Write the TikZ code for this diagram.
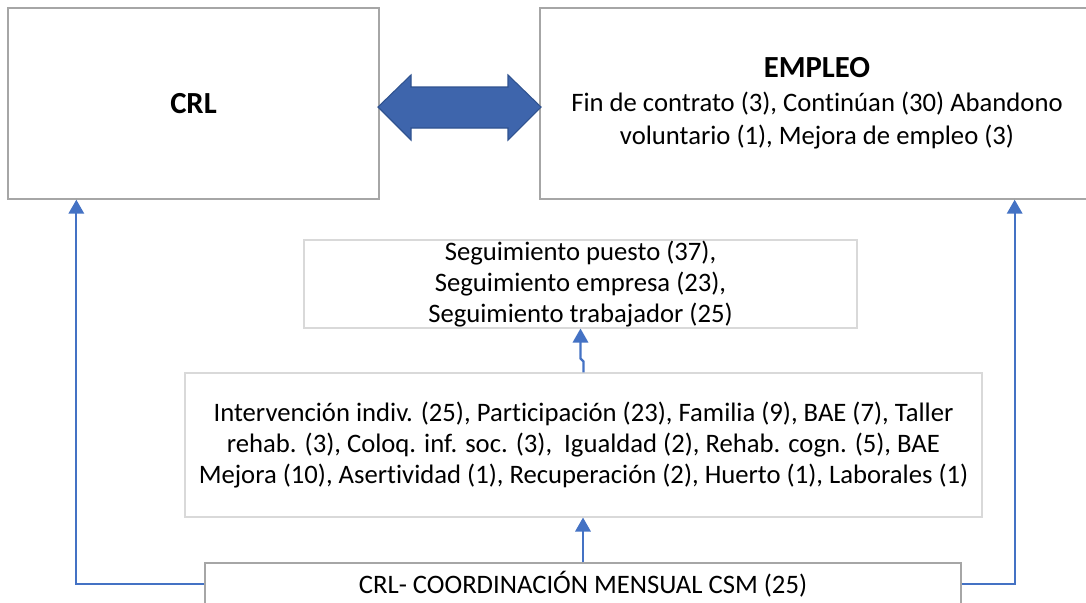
\documentclass[tikz,border=0pt]{standalone}
\usepackage{fontspec}
\setmainfont[RawFeature={-liga;-clig;-dlig}]{Carlito}
\usetikzlibrary{arrows.meta}
\definecolor{conncol}{RGB}{68,114,196}
\definecolor{arrfill}{RGB}{62,101,172}
\definecolor{arrdraw}{RGB}{47,82,143}
\definecolor{boxgray}{RGB}{166,166,166}
\definecolor{boxlight}{RGB}{217,217,217}
\tikzset{
  mainbox/.style={draw=boxgray, line width=1pt, fill=white, inner sep=0pt, align=center,
    font=\fontsize{20}{24.5}\selectfont},
  lightbox/.style={draw=boxlight, line width=0.8pt, fill=white, inner sep=0pt, align=center,
    font=\fontsize{20}{23.3}\selectfont},
  conn/.style={draw=conncol, line width=1.7pt, -{Triangle[width=11.5pt,length=10.5pt]}},
  bigarrow/.style={fill=arrfill, draw=arrdraw, line width=0.8pt, line join=miter}
}
\begin{document}
\begin{tikzpicture}[x=0.75pt,y=-0.75pt]
\useasboundingbox (0,0) rectangle (1086,603);
\clip (0,0) rectangle (1086,603);
\fill[white] (0,0) rectangle (1086,603);

\node[mainbox, minimum width=278.25pt, minimum height=143.25pt] (crl) at (193.5,103.5)
  {\fontsize{23}{27}\selectfont\bfseries CRL};
\node[mainbox, minimum width=415.5pt, minimum height=143.25pt] (emp) at (817,103.5)
  {{\fontsize{23}{27}\selectfont\bfseries EMPLEO}\\[1pt]
   Fin de contrato (3), Continúan (30) Abandono\\
   voluntario (1), Mejora de empleo (3)};

\node[lightbox, minimum width=414.75pt, minimum height=66pt] (seg) at (580.5,284)
  {Seguimiento puesto (37),\\ Seguimiento empresa (23),\\ Seguimiento trabajador (25)};

\node[lightbox, minimum width=597.75pt, minimum height=108pt] (interv) at (583.5,445)
  {Intervención indiv. (25), Participación (23), Familia (9), BAE (7), Taller\\
   rehab. (3), Coloq. inf. soc. (3),~ Igualdad (2), Rehab. cogn. (5), BAE\\
   Mejora (10), Asertividad (1), Recuperación (2), Huerto (1), Laborales (1)};

\node[mainbox, minimum width=567pt, minimum height=31.5pt] (bot) at (583,584)
  {CRL- COORDINACIÓN MENSUAL CSM (25)};

% double arrow between CRL and EMPLEO
\path[bigarrow] (378,107) -- (411,75) -- (411,87) -- (508,87) -- (508,75) -- (541,107)
  -- (508,140) -- (508,128) -- (411,128) -- (411,140) -- cycle;

% connectors
\draw[conn] (bot.west) -| ([xshift=51.75pt]crl.south west);
\draw[conn] (bot.east) -| ([xshift=-60pt]emp.south east);
\draw[conn] (bot.north) -- (bot.north |- interv.south);
\draw[conn] (interv.north) -- ++(0,-11) -- ++(-3,-3) -- (seg.south);
\end{tikzpicture}
\end{document}
